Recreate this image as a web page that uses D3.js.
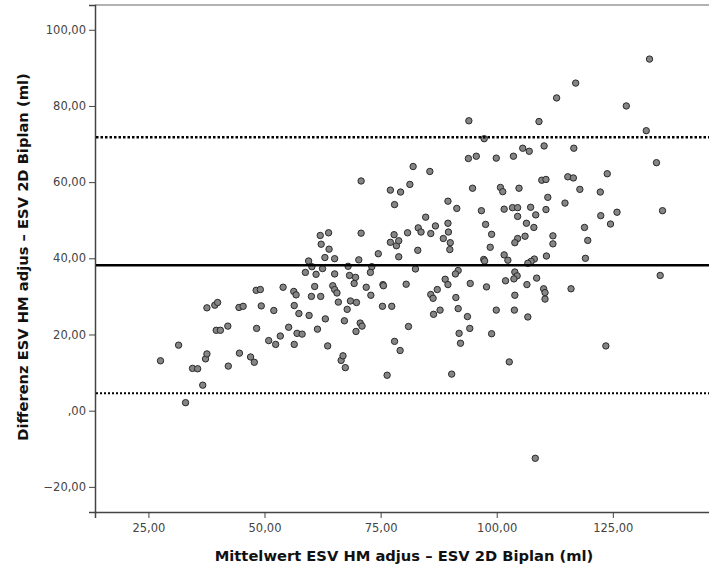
<!DOCTYPE html>
<html>
<head>
<meta charset="utf-8">
<script src="https://cdn.jsdelivr.net/npm/d3@7"></script>
<style>
    body { margin: 0; background: #fff; }
    svg { display: block; }
    .tick text { font-family: "DejaVu Sans", sans-serif; font-size: 11.5px; fill: #444; }
    .axis-title { font-family: "DejaVu Sans", sans-serif; font-size: 14.7px; font-weight: bold; fill: #111; }
</style>
</head>
<body>
<svg id="chart" width="709" height="571"></svg>
<script>
var width = 709,
    height = 571;

// Mittelwert (x) and Differenz (y) for each case
var meanValues = [
    27.6, 31.5, 33.0, 34.5, 35.6, 36.7, 37.3, 37.6, 37.6, 39.3, 39.9, 39.6, 40.5, 42.1, 42.2,
    44.5, 45.4, 44.6, 47.0, 47.8, 48.3, 48.2, 49.1, 49.3, 50.9, 52.0, 52.4, 53.4, 54.0, 55.2,
    56.3, 56.8, 56.4, 56.4, 57.0, 58.1, 57.4, 59.6, 60.1, 62.1, 60.8, 61.4, 63.1, 63.6, 64.7,
    65.1, 65.6, 65.9, 66.5, 66.9, 67.4, 67.2, 67.8, 68.5, 69.8, 69.7, 70.6, 71.0, 69.3, 62.0,
    63.8, 62.2, 63.9, 70.8, 77.9, 77.1, 78.4, 78.9, 80.8, 78.9, 74.5, 63.0, 65.1, 59.5, 70.3,
    60.2, 62.5, 68.0, 73.1, 58.8, 61.1, 65.1, 68.3, 69.6, 72.8, 82.5, 71.9, 75.5, 75.6, 80.5,
    72.9, 75.4, 77.4, 81.0, 78.0, 79.2, 76.4, 70.8, 82.0, 77.1, 79.3, 81.3, 78.0, 83.1, 83.7,
    86.8, 85.8, 89.5, 89.6, 88.5, 90.0, 89.9, 83.0, 97.6, 98.9, 98.6, 106.4, 108.0, 106.1, 104.5,
    103.9, 112.1, 112.1, 101.6, 102.4, 97.2, 97.4, 110.7, 108.1, 107.4, 106.7, 91.7, 91.1, 103.9, 104.4,
    103.7, 108.6, 101.9, 88.9, 89.5, 94.3, 97.8, 106.5, 110.1, 110.4, 110.4, 87.2, 85.8, 86.3, 91.2,
    103.9, 91.7, 87.8, 86.4, 99.9, 103.8, 93.7, 106.7, 94.2, 91.9, 92.2, 98.9, 102.7, 90.3, 108.3,
    112.9, 94.0, 109.1, 97.3, 110.2, 105.6, 107.0, 93.9, 95.6, 99.9, 103.6, 85.6, 94.8, 100.8, 101.3,
    104.8, 109.7, 110.6, 111.0, 89.5, 91.4, 96.7, 101.6, 103.4, 104.5, 107.3, 108.4, 110.6, 104.5, 84.7,
    132.9, 117.0, 127.9, 132.2, 116.6, 134.4, 123.8, 115.3, 116.5, 117.9, 122.3, 114.7, 122.4, 125.9, 135.7,
    124.5, 118.9, 119.6, 119.1, 135.2, 116.0, 123.5
];
var diffValues = [
    13.1, 17.2, 2.1, 11.1, 11.0, 6.7, 13.6, 14.9, 27.0, 27.7, 28.4, 21.1, 21.1, 22.2, 11.7,
    27.1, 27.4, 15.1, 14.1, 12.7, 21.6, 31.6, 31.8, 27.5, 18.4, 26.3, 17.4, 19.6, 32.4, 21.9,
    31.3, 30.4, 27.6, 17.4, 20.3, 20.1, 25.5, 25.0, 30.0, 30.0, 32.6, 21.4, 24.1, 17.0, 32.8,
    31.8, 30.9, 28.5, 13.2, 14.4, 11.3, 23.6, 26.6, 28.8, 28.4, 20.8, 23.0, 22.2, 33.4, 46.0,
    46.7, 43.7, 42.4, 46.6, 46.2, 44.2, 43.3, 44.6, 46.7, 40.4, 41.2, 40.2, 39.9, 39.3, 39.6,
    37.8, 37.3, 37.9, 37.8, 36.3, 35.8, 35.9, 35.5, 35.0, 36.3, 37.2, 32.4, 33.1, 32.8, 33.2,
    30.3, 27.4, 27.4, 22.1, 18.2, 15.8, 9.3, 60.3, 64.1, 57.9, 57.4, 59.4, 54.1, 48.0, 46.9,
    48.5, 46.5, 49.2, 46.9, 45.2, 44.1, 42.3, 42.1, 48.9, 46.3, 42.9, 49.2, 48.1, 45.8, 45.2,
    44.1, 45.9, 43.8, 40.9, 39.5, 39.7, 39.3, 40.6, 39.8, 39.2, 38.7, 36.8, 35.9, 36.4, 35.4,
    34.6, 34.8, 34.1, 34.5, 33.1, 33.4, 32.5, 33.1, 32.0, 31.0, 29.3, 31.8, 30.5, 29.5, 29.7,
    30.3, 26.8, 26.4, 25.3, 26.4, 26.4, 24.7, 24.6, 21.6, 20.3, 17.7, 20.2, 12.8, 9.6, -12.5,
    82.1, 76.1, 75.9, 71.4, 69.5, 68.9, 68.1, 66.2, 66.8, 66.3, 66.8, 62.8, 58.4, 58.6, 57.5,
    58.4, 60.5, 60.7, 56.0, 55.0, 53.1, 52.5, 52.9, 53.3, 53.3, 53.4, 51.4, 52.8, 51.0, 50.8,
    92.3, 86.0, 80.0, 73.5, 68.9, 65.1, 62.2, 61.4, 61.1, 58.1, 57.4, 54.5, 51.2, 52.1, 52.5,
    49.0, 48.1, 44.7, 40.0, 35.5, 32.0, 17.0
];

// mean difference and limits of agreement
var meanDiff = 38.2;
var upperLimit = 71.8;
var lowerLimit = 4.6;

var xTicks = [25, 50, 75, 100, 125];
var yTicks = [-20, 0, 20, 40, 60, 80, 100];

var xAxisTitle = "Mittelwert ESV HM adjus – ESV 2D Biplan (ml)";
var yAxisTitle = "Differenz ESV HM adjus – ESV 2D Biplan (ml)";

var plotLeft = 95,
    plotRight = 715,
    plotTop = 5,
    plotBottom = 512;

var x = d3.scaleLinear().domain([13.5, 147]).range([plotLeft, plotRight]);
var y = d3.scaleLinear().domain([-26.6, 106.5]).range([plotBottom, plotTop]);

// format like "25,00" / ",00"
function fmt(v) {
    var s = d3.format(".2f")(v).replace(".", ",");
    if (s == "0,00") return ",00";
    return s;
}

var points = meanValues.map(function (m, i) {
    return { m: m, d: diffValues[i] };
});

var svg = d3.select("#chart");

// frame (top border)
svg.append("line")
    .attr("x1", plotLeft).attr("x2", width)
    .attr("y1", plotTop).attr("y2", plotTop)
    .attr("stroke", "#999")
    .attr("stroke-width", 1.5);

// axes
var xAxis = d3.axisBottom(x)
    .tickValues(xTicks)
    .tickFormat(fmt)
    .tickSize(6)
    .tickPadding(6);
var yAxis = d3.axisLeft(y)
    .tickValues(yTicks)
    .tickFormat(fmt)
    .tickSize(6)
    .tickPadding(3);

var gx = svg.append("g")
    .attr("transform", "translate(0," + plotBottom + ")")
    .call(xAxis);
var gy = svg.append("g")
    .attr("transform", "translate(" + plotLeft + ",0)")
    .call(yAxis);

gx.select(".domain").attr("stroke", "#444").attr("stroke-width", 1.5);
gy.select(".domain").attr("stroke", "#444").attr("stroke-width", 1.5);
gx.selectAll(".tick line").attr("stroke", "#444");
gy.selectAll(".tick line").attr("stroke", "#444");

// points
svg.append("g")
    .selectAll("circle")
    .data(points)
    .join("circle")
    .attr("cx", function (d) {
        return x(d.m);
    })
    .attr("cy", function (d) {
        return y(d.d);
    })
    .attr("r", 3.2)
    .attr("fill", "#858585")
    .attr("stroke", "#2a2a2a")
    .attr("stroke-width", 1);

// reference lines
var refLines = [
    { value: meanDiff, width: 2.5, dash: null },
    { value: upperLimit, width: 2.5, dash: "2.5,2" },
    { value: lowerLimit, width: 2, dash: "2,2" }
];
svg.append("g")
    .selectAll("line")
    .data(refLines)
    .join("line")
    .attr("x1", plotLeft + 1)
    .attr("x2", width)
    .attr("y1", function (d) {
        return y(d.value);
    })
    .attr("y2", function (d) {
        return y(d.value);
    })
    .attr("stroke", "#000")
    .attr("stroke-width", function (d) {
        return d.width;
    })
    .attr("stroke-dasharray", function (d) {
        return d.dash;
    });

// axis titles
svg.append("text")
    .attr("class", "axis-title")
    .attr("x", 404)
    .attr("y", 561)
    .attr("text-anchor", "middle")
    .text(xAxisTitle);

svg.append("text")
    .attr("class", "axis-title")
    .attr("transform", "translate(28," + 257 + ") rotate(-90)")
    .attr("text-anchor", "middle")
    .text(yAxisTitle);
</script>
</body>
</html>
